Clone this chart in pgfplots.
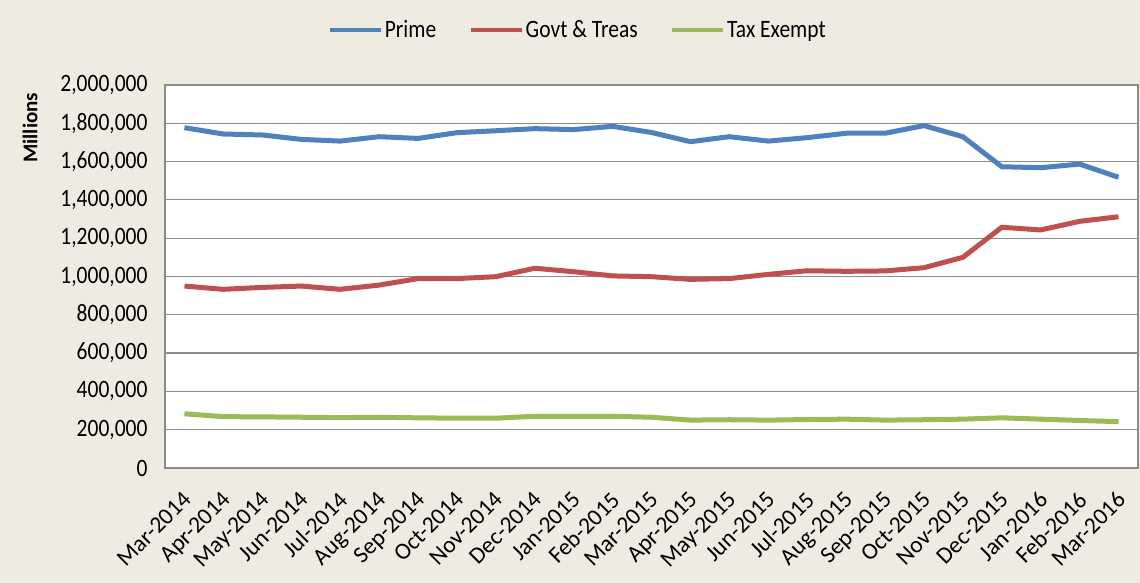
\documentclass[border=0pt]{standalone}
\usepackage{fontspec}
\setmainfont{Carlito}[FakeStretch=0.86]
\newfontfamily\lblfont{Carlito}
\usepackage{pgfplots}
\pgfplotsset{compat=1.18}
\definecolor{bgc}{HTML}{EEECE1}
\definecolor{cprime}{HTML}{4F81BD}
\definecolor{cgovt}{HTML}{C0504D}
\definecolor{ctax}{HTML}{9BBB59}
\definecolor{gridc}{HTML}{8C8C8C}
\begin{document}
\begin{tikzpicture}[x=1bp,y=1bp]
\fill[bgc] (0,0) rectangle (1140,583);
\useasboundingbox (0,0) rectangle (1140,583);
\begin{axis}[
  at={(165bp,115bp)}, anchor=south west,
  width=973bp, height=383bp, scale only axis,
  axis background/.style={fill=white},
  axis line style={gridc, line width=1.2bp},
  xmin=-0.5, xmax=24.5, ymin=0, ymax=2000000,
  xtick={0,1,2,3,4,5,6,7,8,9,10,11,12,13,14,15,16,17,18,19,20,21,22,23,24},
  xticklabels={Mar-2014,Apr-2014,May-2014,Jun-2014,Jul-2014,Aug-2014,Sep-2014,Oct-2014,Nov-2014,Dec-2014,Jan-2015,Feb-2015,Mar-2015,Apr-2015,May-2015,Jun-2015,Jul-2015,Aug-2015,Sep-2015,Oct-2015,Nov-2015,Dec-2015,Jan-2016,Feb-2016,Mar-2016},
  ytick={0,200000,400000,600000,800000,1000000,1200000,1400000,1600000,1800000,2000000},
  scaled y ticks=false,
  major tick length=0pt,
  ymajorgrids=true,
  grid style={gridc, line width=1.2bp},
  tick label style={font=\fontsize{25bp}{29bp}\selectfont, black},
  yticklabel style={/pgf/number format/.cd, fixed, 1000 sep={,}, assume math mode=true, /tikz/.cd, xshift=-14bp},
  xticklabel style={font=\fontsize{23.5bp}{27bp}\lblfont, xshift=-3bp, yshift=-22bp, rotate=45, anchor=north east, inner sep=0bp},
  ylabel={Millions},
  every axis y label/.style={at={(axis description cs:-0.1387,0.888)}, rotate=90, anchor=center,
    font=\fontsize{21bp}{25bp}\lblfont\bfseries},
  legend columns=3,
  legend style={at={(axis description cs:0.424,1.1436)}, anchor=center, draw=none, fill=none,
    font=\fontsize{25bp}{29bp}\selectfont, /tikz/every even column/.append style={column sep=31bp},
    inner sep=0pt, nodes={inner sep=1.5bp}},
  legend cell align=left,
  legend image code/.code={\draw[#1, line width=4.5bp] (0bp,0bp) -- (51bp,0bp);},
  every axis plot/.append style={line width=5bp, line join=round, mark=none},
]
\addplot[cprime] coordinates {
(0,1777000) (1,1744000) (2,1739000) (3,1716000) (4,1707000) (5,1730000) (6,1721000)
(7,1751000) (8,1761000) (9,1772000) (10,1767000) (11,1784000) (12,1752000) (13,1704000)
(14,1730000) (15,1707000) (16,1725000) (17,1748000) (18,1748000) (19,1788000) (20,1730000)
(21,1573000) (22,1568000) (23,1587000) (24,1518000)};
\addlegendentry{Prime}
\addplot[cgovt] coordinates {
(0,950000) (1,933000) (2,943000) (3,950000) (4,933000) (5,955000) (6,989000)
(7,989000) (8,999000) (9,1043000) (10,1025000) (11,1003000) (12,999000) (13,985000)
(14,989000) (15,1011000) (16,1030000) (17,1027000) (18,1029000) (19,1046000) (20,1100000)
(21,1257000) (22,1243000) (23,1288000) (24,1312000)};
\addlegendentry{Govt \& Treas}
\addplot[ctax] coordinates {
(0,283000) (1,268000) (2,267000) (3,265000) (4,263000) (5,265000) (6,262000)
(7,260000) (8,260000) (9,270000) (10,270000) (11,270000) (12,265000) (13,250000)
(14,252000) (15,250000) (16,253000) (17,255000) (18,250000) (19,252000) (20,255000)
(21,262000) (22,255000) (23,248000) (24,242000)};
\addlegendentry{Tax Exempt}
\end{axis}
\end{tikzpicture}
\end{document}
